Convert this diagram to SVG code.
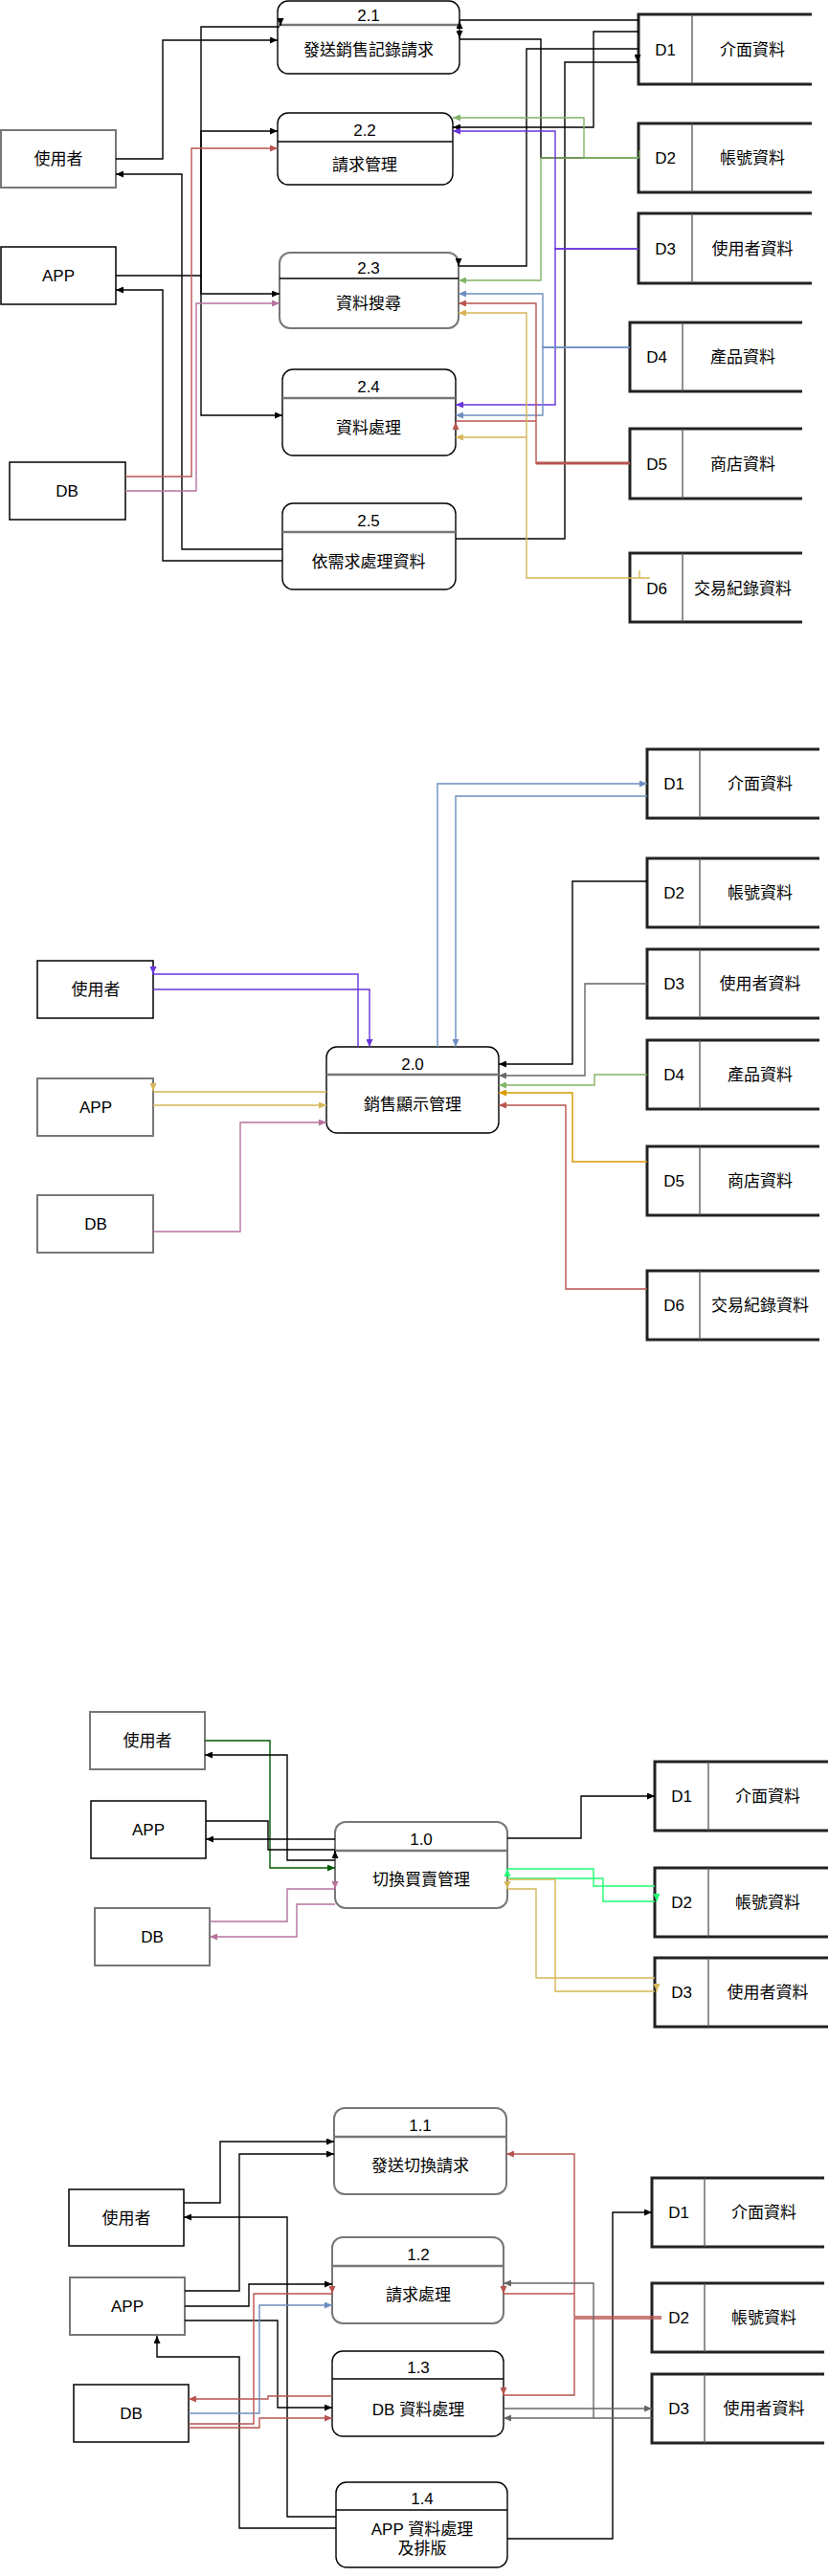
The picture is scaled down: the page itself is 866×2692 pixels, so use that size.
<svg xmlns="http://www.w3.org/2000/svg" width="866" height="2692" viewBox="0 0 866 2692">
<style>
.t{font-family:"Liberation Sans","Noto Sans CJK TC",sans-serif;font-size:17px;text-anchor:middle;dominant-baseline:central;fill:#000}
.ln{fill:none;stroke-width:1.4}
.k{stroke:#000}.r{stroke:#b85450}.m{stroke:#b5739d}.g{stroke:#82b366}.p{stroke:#6a35db}.b{stroke:#6c8ebf}.y{stroke:#d6b656}.o{stroke:#d79b00}.gr{stroke:#666}.dg{stroke:#005700}.bg{stroke:#1eff70}
.ak{marker-end:url(#ak)}.ar{marker-end:url(#ar)}.am{marker-end:url(#am)}.ag{marker-end:url(#ag)}.ap{marker-end:url(#ap)}.ab{marker-end:url(#ab)}.ay{marker-end:url(#ay)}.ao{marker-end:url(#ao)}.agr{marker-end:url(#agr)}.adg{marker-end:url(#adg)}.abg{marker-end:url(#abg)}
.ent{fill:#fff;stroke:#000;stroke-width:1.5}
.entg{fill:#fff;stroke:#777;stroke-width:2}
.proc{fill:#fff;stroke:#000;stroke-width:1.4}
.procg{fill:#fff;stroke:#777;stroke-width:2}
.hd{stroke:#000;stroke-width:1.4}
.hdg{stroke:#777;stroke-width:2.5}
.sb{fill:none;stroke:#222;stroke-width:3}
.sd{stroke:#555;stroke-width:1.3}
</style>
<defs>
<marker id="ak" viewBox="0 0 8 7" refX="8" refY="3.5" markerWidth="8" markerHeight="7" markerUnits="userSpaceOnUse" orient="auto"><path d="M0,0L8,3.5L0,7z" fill="#000"/></marker>
<marker id="ar" viewBox="0 0 8 7" refX="8" refY="3.5" markerWidth="8" markerHeight="7" markerUnits="userSpaceOnUse" orient="auto"><path d="M0,0L8,3.5L0,7z" fill="#b85450"/></marker>
<marker id="am" viewBox="0 0 8 7" refX="8" refY="3.5" markerWidth="8" markerHeight="7" markerUnits="userSpaceOnUse" orient="auto"><path d="M0,0L8,3.5L0,7z" fill="#b5739d"/></marker>
<marker id="ag" viewBox="0 0 8 7" refX="8" refY="3.5" markerWidth="8" markerHeight="7" markerUnits="userSpaceOnUse" orient="auto"><path d="M0,0L8,3.5L0,7z" fill="#82b366"/></marker>
<marker id="ap" viewBox="0 0 8 7" refX="8" refY="3.5" markerWidth="8" markerHeight="7" markerUnits="userSpaceOnUse" orient="auto"><path d="M0,0L8,3.5L0,7z" fill="#6a35db"/></marker>
<marker id="ab" viewBox="0 0 8 7" refX="8" refY="3.5" markerWidth="8" markerHeight="7" markerUnits="userSpaceOnUse" orient="auto"><path d="M0,0L8,3.5L0,7z" fill="#6c8ebf"/></marker>
<marker id="ay" viewBox="0 0 8 7" refX="8" refY="3.5" markerWidth="8" markerHeight="7" markerUnits="userSpaceOnUse" orient="auto"><path d="M0,0L8,3.5L0,7z" fill="#d6b656"/></marker>
<marker id="ao" viewBox="0 0 8 7" refX="8" refY="3.5" markerWidth="8" markerHeight="7" markerUnits="userSpaceOnUse" orient="auto"><path d="M0,0L8,3.5L0,7z" fill="#d79b00"/></marker>
<marker id="agr" viewBox="0 0 8 7" refX="8" refY="3.5" markerWidth="8" markerHeight="7" markerUnits="userSpaceOnUse" orient="auto"><path d="M0,0L8,3.5L0,7z" fill="#666"/></marker>
<marker id="adg" viewBox="0 0 8 7" refX="8" refY="3.5" markerWidth="8" markerHeight="7" markerUnits="userSpaceOnUse" orient="auto"><path d="M0,0L8,3.5L0,7z" fill="#005700"/></marker>
<marker id="abg" viewBox="0 0 8 7" refX="8" refY="3.5" markerWidth="8" markerHeight="7" markerUnits="userSpaceOnUse" orient="auto"><path d="M0,0L8,3.5L0,7z" fill="#1eff70"/></marker>
</defs>
<rect width="866" height="2692" fill="#fff"/>

<!-- ===== Section 1 nodes ===== -->
<g id="s1-user"><rect class="entg" x="1" y="136" width="120" height="60"/><text class="t" x="61" y="166">使用者</text></g>
<g id="s1-app"><rect class="ent" x="1" y="258" width="120" height="60"/><text class="t" x="61" y="288">APP</text></g>
<g id="s1-db"><rect class="ent" x="10" y="483" width="121" height="60"/><text class="t" x="70" y="513">DB</text></g>

<g id="p2-1"><rect class="proc" x="290" y="1" width="190" height="76" rx="11"/><line class="hdg" x1="290" y1="26" x2="480" y2="26"/><text class="t" x="385" y="16">2.1</text><text class="t" x="385" y="52">發送銷售記錄請求</text></g>
<g id="p2-2"><rect class="proc" x="290" y="118" width="183" height="75" rx="11"/><line class="hd" x1="290" y1="148" x2="473" y2="148"/><text class="t" x="381" y="136">2.2</text><text class="t" x="381" y="172">請求管理</text></g>
<g id="p2-3"><rect class="procg" x="292" y="264" width="187" height="79" rx="11"/><line class="hd" x1="292" y1="291" x2="479" y2="291"/><text class="t" x="385" y="280">2.3</text><text class="t" x="385" y="317">資料搜尋</text></g>
<g id="p2-4"><rect class="proc" x="295" y="386" width="181" height="90" rx="11"/><line class="hdg" x1="295" y1="416" x2="476" y2="416"/><text class="t" x="385" y="404">2.4</text><text class="t" x="385" y="447">資料處理</text></g>
<g id="p2-5"><rect class="proc" x="295" y="526" width="181" height="90" rx="11"/><line class="hdg" x1="295" y1="556" x2="476" y2="556"/><text class="t" x="385" y="544">2.5</text><text class="t" x="385" y="587">依需求處理資料</text></g>

<g id="s1-d1"><path class="sb" d="M848,15H667V88H848"/><line class="sd" x1="723" y1="15" x2="723" y2="88"/><text class="t" x="695" y="52">D1</text><text class="t" x="786" y="52">介面資料</text></g>
<g id="s1-d2"><path class="sb" d="M848,129H667V201H848"/><line class="sd" x1="723" y1="129" x2="723" y2="201"/><text class="t" x="695" y="165">D2</text><text class="t" x="786" y="165">帳號資料</text></g>
<g id="s1-d3"><path class="sb" d="M848,223H667V296H848"/><line class="sd" x1="723" y1="223" x2="723" y2="296"/><text class="t" x="695" y="260">D3</text><text class="t" x="786" y="260">使用者資料</text></g>
<g id="s1-d4"><path class="sb" d="M838,337H658V409H838"/><line class="sd" x1="713" y1="337" x2="713" y2="409"/><text class="t" x="686" y="373">D4</text><text class="t" x="776" y="373">產品資料</text></g>
<g id="s1-d5"><path class="sb" d="M838,448H658V521H838"/><line class="sd" x1="713" y1="448" x2="713" y2="521"/><text class="t" x="686" y="485">D5</text><text class="t" x="776" y="485">商店資料</text></g>
<g id="s1-d6"><path class="sb" d="M838,578H658V650H838"/><line class="sd" x1="713" y1="578" x2="713" y2="650"/><text class="t" x="686" y="615">D6</text><text class="t" x="776" y="615">交易紀錄資料</text></g>

<!-- ===== Section 2 nodes ===== -->
<g id="s2-user"><rect class="ent" x="39" y="1004" width="121" height="60"/><text class="t" x="100" y="1034">使用者</text></g>
<g id="s2-app"><rect class="entg" x="39" y="1127" width="121" height="60"/><text class="t" x="100" y="1157">APP</text></g>
<g id="s2-db"><rect class="entg" x="39" y="1249" width="121" height="60"/><text class="t" x="100" y="1279">DB</text></g>
<g id="p2-0"><rect class="proc" x="341" y="1094" width="180" height="90" rx="11"/><line class="hdg" x1="341" y1="1123" x2="521" y2="1123"/><text class="t" x="431" y="1112">2.0</text><text class="t" x="431" y="1154">銷售顯示管理</text></g>
<g id="s2-d1"><path class="sb" d="M856,783H676V855H856"/><line class="sd" x1="731" y1="783" x2="731" y2="855"/><text class="t" x="704" y="819">D1</text><text class="t" x="794" y="819">介面資料</text></g>
<g id="s2-d2"><path class="sb" d="M856,897H676V969H856"/><line class="sd" x1="731" y1="897" x2="731" y2="969"/><text class="t" x="704" y="933">D2</text><text class="t" x="794" y="933">帳號資料</text></g>
<g id="s2-d3"><path class="sb" d="M856,992H676V1064H856"/><line class="sd" x1="731" y1="992" x2="731" y2="1064"/><text class="t" x="704" y="1028">D3</text><text class="t" x="794" y="1028">使用者資料</text></g>
<g id="s2-d4"><path class="sb" d="M856,1087H676V1159H856"/><line class="sd" x1="731" y1="1087" x2="731" y2="1159"/><text class="t" x="704" y="1123">D4</text><text class="t" x="794" y="1123">產品資料</text></g>
<g id="s2-d5"><path class="sb" d="M856,1198H676V1270H856"/><line class="sd" x1="731" y1="1198" x2="731" y2="1270"/><text class="t" x="704" y="1234">D5</text><text class="t" x="794" y="1234">商店資料</text></g>
<g id="s2-d6"><path class="sb" d="M856,1328H676V1400H856"/><line class="sd" x1="731" y1="1328" x2="731" y2="1400"/><text class="t" x="704" y="1364">D6</text><text class="t" x="794" y="1364">交易紀錄資料</text></g>

<!-- ===== Section 3 nodes ===== -->
<g id="s3-user"><rect class="entg" x="94" y="1789" width="120" height="60"/><text class="t" x="154" y="1819">使用者</text></g>
<g id="s3-app"><rect class="ent" x="95" y="1882" width="120" height="60"/><text class="t" x="155" y="1912">APP</text></g>
<g id="s3-db"><rect class="entg" x="99" y="1994" width="120" height="60"/><text class="t" x="159" y="2024">DB</text></g>
<g id="p1-0"><rect class="procg" x="350" y="1904" width="180" height="90" rx="11"/><line class="hdg" x1="350" y1="1934" x2="530" y2="1934"/><text class="t" x="440" y="1922">1.0</text><text class="t" x="440" y="1964">切換買賣管理</text></g>
<g id="s3-d1"><path class="sb" d="M865,1841H684V1913H865"/><line class="sd" x1="740" y1="1841" x2="740" y2="1913"/><text class="t" x="712" y="1877">D1</text><text class="t" x="802" y="1877">介面資料</text></g>
<g id="s3-d2"><path class="sb" d="M865,1952H684V2024H865"/><line class="sd" x1="740" y1="1952" x2="740" y2="2024"/><text class="t" x="712" y="1988">D2</text><text class="t" x="802" y="1988">帳號資料</text></g>
<g id="s3-d3"><path class="sb" d="M865,2046H684V2118H865"/><line class="sd" x1="740" y1="2046" x2="740" y2="2118"/><text class="t" x="712" y="2082">D3</text><text class="t" x="802" y="2082">使用者資料</text></g>

<!-- ===== Section 4 nodes ===== -->
<g id="s4-user"><rect class="ent" x="72" y="2288" width="120" height="59"/><text class="t" x="132" y="2318">使用者</text></g>
<g id="s4-app"><rect class="entg" x="73" y="2380" width="120" height="60"/><text class="t" x="133" y="2410">APP</text></g>
<g id="s4-db"><rect class="ent" x="77" y="2492" width="120" height="60"/><text class="t" x="137" y="2522">DB</text></g>
<g id="p1-1"><rect class="procg" x="349" y="2203" width="180" height="90" rx="11"/><line class="hdg" x1="349" y1="2233" x2="529" y2="2233"/><text class="t" x="439" y="2221">1.1</text><text class="t" x="439" y="2263">發送切換請求</text></g>
<g id="p1-2"><rect class="procg" x="347" y="2338" width="179" height="90" rx="11"/><line class="hdg" x1="347" y1="2368" x2="526" y2="2368"/><text class="t" x="437" y="2356">1.2</text><text class="t" x="437" y="2398">請求處理</text></g>
<g id="p1-3"><rect class="proc" x="347" y="2457" width="179" height="89" rx="11"/><line class="hd" x1="347" y1="2486" x2="526" y2="2486"/><text class="t" x="437" y="2474">1.3</text><text class="t" x="437" y="2518">DB 資料處理</text></g>
<g id="p1-4"><rect class="proc" x="351" y="2594" width="179" height="89" rx="11"/><line class="hd" x1="351" y1="2623" x2="530" y2="2623"/><text class="t" x="441" y="2611">1.4</text><text class="t" x="441" y="2643">APP 資料處理</text><text class="t" x="441" y="2663">及排版</text></g>
<g id="s4-d1"><path class="sb" d="M861,2276H681V2348H861"/><line class="sd" x1="736" y1="2276" x2="736" y2="2348"/><text class="t" x="709" y="2312">D1</text><text class="t" x="798" y="2312">介面資料</text></g>
<g id="s4-d2"><path class="sb" d="M861,2386H681V2458H861"/><line class="sd" x1="736" y1="2386" x2="736" y2="2458"/><text class="t" x="709" y="2422">D2</text><text class="t" x="798" y="2422">帳號資料</text></g>
<g id="s4-d3"><path class="sb" d="M861,2481H681V2553H861"/><line class="sd" x1="736" y1="2481" x2="736" y2="2553"/><text class="t" x="709" y="2517">D3</text><text class="t" x="798" y="2517">使用者資料</text></g>

<!-- ===== Connectors ===== -->
<g id="connectors">
<!-- section 1 -->
<path class="ln k ak" d="M121,166H170V42H290"/>
<path class="ln k" d="M121,288H210"/>
<path class="ln k" d="M210,288V28H292"/>
<path class="ln k ak" d="M293,20V27"/>
<path class="ln k ak" d="M210,288V137H290"/>
<path class="ln k ak" d="M210,288V307H292"/>
<path class="ln k ak" d="M210,288V434H295"/>
<path class="ln k ak" d="M295,574H190V182H121"/>
<path class="ln k ak" d="M295,586H170V303H121"/>
<path class="ln k" d="M476,563H590V65H666"/>
<path class="ln k ak" d="M666,57V65"/>
<path class="ln k" d="M667,21H480"/>
<path class="ln k ak" d="M480,30V22"/>
<path class="ln k" d="M480,41H565V165H667"/>
<path class="ln k ak" d="M480,32V40"/>
<path class="ln k ak" d="M667,33H620V133H473"/>
<path class="ln k" d="M667,51H550V278H479"/>
<path class="ln k ak" d="M479,270V278"/>
<path class="ln g ag" d="M667,165H610V123H473"/>
<path class="ln g ag" d="M667,165H565V293H479"/>
<path class="ln g" d="M668,157V165"/>
<path class="ln p ap" d="M667,260H580V137H473"/>
<path class="ln p ap" d="M667,260H580V423H476"/>
<path class="ln b ab" d="M658,363H567V307H479"/>
<path class="ln b ab" d="M658,363H567V434H476"/>
<path class="ln r ar" d="M658,484H560V317H479"/>
<path class="r" stroke-width="3" d="M560,484H658"/>
<path class="ln r" d="M560,440H476"/>
<path class="ln r ar" d="M476,449V441"/>
<path class="ln r ar" d="M131,498H200V155H290"/>
<path class="ln m am" d="M131,513H205V317H292"/>
<path class="ln y ay" d="M679,604H550V327H479"/>
<path class="ln y ay" d="M550,457H476"/>
<path class="ln y" d="M668,596V604"/>
<!-- section 2 -->
<path class="ln p" d="M374,1094V1018H160"/>
<path class="ln p ap" d="M160,1010V1018"/>
<path class="ln p ap" d="M160,1034H386V1094"/>
<path class="ln y" d="M341,1141H160"/>
<path class="ln y ay" d="M160,1132V1140"/>
<path class="ln y ay" d="M160,1155H341"/>
<path class="ln m am" d="M160,1287H251V1173H341"/>
<path class="ln b ab" d="M457,1094V819H676"/>
<path class="ln b ab" d="M676,832H476V1094"/>
<path class="ln k ak" d="M676,921H598V1112H521"/>
<path class="ln gr agr" d="M676,1028H611V1124H521"/>
<path class="ln g ag" d="M676,1123H621V1134H521"/>
<path class="ln o ao" d="M676,1214H598V1142H521"/>
<path class="ln r ar" d="M676,1347H591V1155H521"/>
<!-- section 3 -->
<path class="ln dg adg" d="M214,1819H282V1952H350"/>
<path class="ln k ak" d="M350,1944H300V1834H214"/>
<path class="ln k" d="M215,1903H280V1933H350"/>
<path class="ln k ak" d="M350,1942V1934"/>
<path class="ln k ak" d="M350,1922H215"/>
<path class="ln m" d="M219,2008H300V1974H350"/>
<path class="ln m am" d="M350,1966V1974"/>
<path class="ln m am" d="M350,1990H310V2024H219"/>
<path class="ln k ak" d="M530,1921H607V1877H684"/>
<path class="ln bg" d="M684,1971H620V1953H530"/>
<path class="ln bg abg" d="M530,1961V1953"/>
<path class="ln bg" d="M530,1963H630V1987H684"/>
<path class="ln bg abg" d="M686,1979V1987"/>
<path class="ln y" d="M530,1964H580V2081H684"/>
<path class="ln y ay" d="M686,2073V2081"/>
<path class="ln y" d="M684,2067H560V1974H530"/>
<path class="ln y ay" d="M530,1966V1974"/>
<!-- section 4 -->
<path class="ln k ak" d="M192,2302H230V2238H349"/>
<path class="ln k ak" d="M193,2394H250V2251H349"/>
<path class="ln k ak" d="M351,2630H300V2317H192"/>
<path class="ln k ak" d="M193,2410H260V2387H347"/>
<path class="ln k ak" d="M193,2425H290V2516H347"/>
<path class="ln k ak" d="M351,2642H250V2463H164V2441"/>
<path class="ln k ak" d="M530,2653H640V2312H681"/>
<path class="ln r ar" d="M347,2504H280V2507H197"/>
<path class="ln r" d="M197,2533H265V2397H347"/>
<path class="ln r ar" d="M347,2389V2397"/>
<path class="ln r ar" d="M197,2537H271V2527H347"/>
<path class="ln b ab" d="M197,2522H271V2409H347"/>
<path class="ln r ar" d="M691,2421H600V2251H529"/>
<path class="ln r" d="M600,2397H526"/>
<path class="ln r ar" d="M526,2389V2397"/>
<path class="ln r" d="M691,2423H600V2503H526"/>
<path class="ln r ar" d="M526,2495V2503"/>
<path class="ln gr agr" d="M681,2527H526"/>
<path class="ln gr agr" d="M620,2527V2386H526"/>
<path class="ln gr agr" d="M526,2517H681"/>
</g>
</svg>
